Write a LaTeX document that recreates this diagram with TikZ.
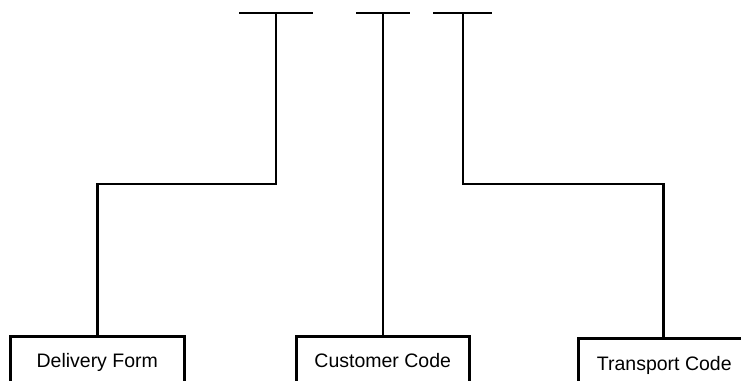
\documentclass[tikz,border=0pt]{standalone}
\usepackage{fontspec}
\setmainfont{Liberation Sans}
\usepackage{tikz}

\tikzset{
    codebox/.style={draw, line width=2.5pt, inner sep=0pt, minimum width=174pt,
        text height=31pt, text depth=40pt, font=\fontsize{19.5}{23}\selectfont},
    link/.style={line width=2.5pt}
}

\begin{document}
\begin{tikzpicture}[x=1pt, y=-1pt]
            \useasboundingbox (0,0) rectangle (741,380);
            % boxes at the bottom
            \node[codebox, anchor=north west] (delivery) at (9,335) {Delivery Form};
            \node[codebox, anchor=north west, minimum width=173pt] (customer) at (295,335) {Customer Code};
            \node[codebox, anchor=north west, minimum width=172pt, text height=32pt] (transport) at (577,337) {Transport Code};
            % free ends at the top
            \coordinate (deliverytop) at (276,13);
            \coordinate (customertop) at (383,13);
            \coordinate (transporttop) at (463,13);
            \draw[link] ([xshift=-37pt]deliverytop) -- ([xshift=37pt]deliverytop);
            \draw[link] ([xshift=-27pt]customertop) -- ([xshift=27pt]customertop);
            \draw[link] ([xshift=-30pt]transporttop) -- ([xshift=29pt]transporttop);
            % connectors
            \draw[link] (deliverytop) -- ++(0,171) -| (delivery.north);
            \draw[link] (customertop) -- (customertop |- customer.north);
            \draw[link] (transporttop) -- ++(0,171) -| ([xshift=-1pt]transport.north);
        \end{tikzpicture}
\end{document}
